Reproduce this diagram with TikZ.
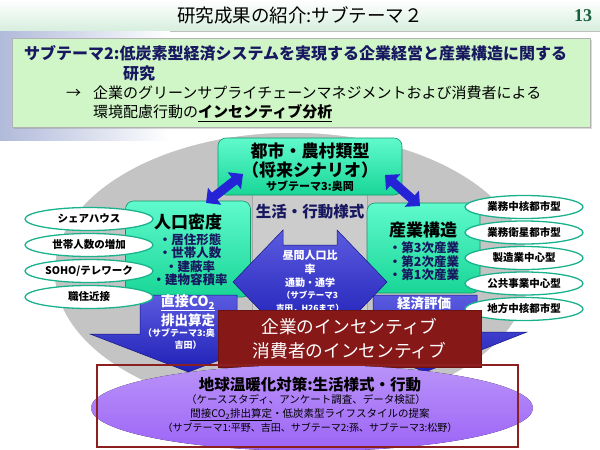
\documentclass[tikz,border=0pt]{standalone}
\usepackage{fontspec}
\setmainfont{Noto Sans CJK JP}
\newfontfamily\numfont{Liberation Serif}
\usetikzlibrary{shapes.geometric, arrows.meta, positioning, shadows}
\definecolor{titlemint}{RGB}{214,238,222}
\definecolor{steelband}{RGB}{176,186,218}
\definecolor{headgreen}{RGB}{208,246,200}
\definecolor{navytext}{RGB}{24,24,96}
\definecolor{numgreen}{RGB}{22,96,56}
\definecolor{boxtop}{RGB}{96,250,205}
\definecolor{boxbottom}{RGB}{24,214,150}
\definecolor{ringgray}{RGB}{196,196,196}
\definecolor{arrowblue}{RGB}{36,36,214}
\definecolor{ovalteal}{RGB}{26,178,140}
\definecolor{incentred}{RGB}{134,24,24}
\definecolor{lifepurple}{RGB}{156,100,246}
\definecolor{framered}{RGB}{140,32,32}
\tikzstyle{theme_box} = [rectangle, rounded corners=8pt, top color=boxtop, bottom color=boxbottom, draw=boxbottom!70!black, line width=0.6pt]
\tikzstyle{oval} = [ellipse, draw=ovalteal, line width=1.3pt, fill=white, inner sep=0pt, minimum height=23pt, font=\fontsize{10.5}{12}\selectfont\bfseries]
\tikzstyle{block_arrow} = [top color=arrowblue!75!white, bottom color=arrowblue!85!black, draw=arrowblue!60!black, line width=0.5pt]
\tikzstyle{link_arrow} = [line width=9pt, arrowblue, {Triangle[width=21pt,length=11pt]}-{Triangle[width=21pt,length=11pt]}]
\tikzstyle{box_title} = [font=\fontsize{17}{20}\selectfont\bfseries, align=center]
\tikzstyle{box_items} = [font=\fontsize{12.5}{13.5}\selectfont\bfseries, navytext, align=center]
\tikzstyle{white_text} = [text=white, align=center, inner sep=0pt]
\tikzstyle{summary_text} = [anchor=west, inner sep=0pt]

\begin{document}
\begin{tikzpicture}[x=1pt, y=-1pt]
\useasboundingbox (0,0) rectangle (600,450);

% Title bar
\fill[top color=white, bottom color=titlemint] (0,0) rectangle (600,31);
\draw[gray!50] (0,31) -- (600,31);
\fill[left color=steelband, right color=white] (0,31) rectangle (170,140);
\node[font=\fontsize{18.5}{20}\selectfont] (title) at (300,15) {研究成果の紹介:サブテーマ２};
\node[font=\numfont\fontsize{18}{20}\selectfont\bfseries, numgreen] (pageno) at (583,16) {13};

% Sub-theme summary
\node[rectangle, fill=headgreen, draw=gray!60, minimum width=578pt, minimum height=89pt, drop shadow={shadow xshift=2pt, shadow yshift=-2pt, opacity=0.3}] (summary) at (301,82.5) {};
\node[summary_text, navytext, font=\fontsize{16}{17}\selectfont\bfseries] (sumline1) at (24,53) {サブテーマ2:低炭素型経済システムを実現する企業経営と産業構造に関する};
\node[summary_text, navytext, font=\fontsize{16}{17}\selectfont\bfseries] (sumline2) at (123,73) {研究};
\node[summary_text, font=\fontsize{15}{17}\selectfont] (sumline3) at (66,93) {→\hspace{12pt}企業のグリーンサプライチェーンマネジメントおよび消費者による};
\node[summary_text, font=\fontsize{15}{17}\selectfont] (sumline4) at (93,113) {環境配慮行動の\textbf{\underline{インセンティブ分析}}};

% Gray ring and central backdrop
\draw[white, line width=1.5pt, fill=ringgray] (292,272) ellipse [x radius=238, y radius=140];
\draw[gray!70, fill=gray!40] (252,186) rectangle (367,338);

% Theme boxes
\node[theme_box, minimum width=184pt, minimum height=57pt] (city) at (310,166.5) {};
\node[box_title] (citytitle) at (310,151) {都市・農村類型};
\node[box_title] (cityscen) at (310,170) {（将来シナリオ）};
\node[font=\fontsize{11}{12}\selectfont\bfseries] (citysub) at (310,186) {サブテーマ3:奥岡};

\node[theme_box, minimum width=125pt, minimum height=96pt] (pop) at (188,249) {};
\node[box_title] (poptitle) at (188,222) {人口密度};
\node[box_items] (popitems) at (190,259.5) {・居住形態\\・世帯人数\\・建蔽率\\・建物容積率};

\node[theme_box, minimum width=113pt, minimum height=90pt] (ind) at (423.5,248) {};
\node[box_title] (indtitle) at (423,230) {産業構造};
\node[box_items] (inditems) at (424,261.5) {・第3次産業\\・第2次産業\\・第1次産業};

\node[font=\fontsize{15.5}{17}\selectfont\bfseries, navytext] (life) at (310,212) {生活・行動様式};

% Block arrows
\draw[block_arrow] (140,295) -- (237,295) -- (237,334) -- (287,334) -- (188.5,372) -- (90,334) -- (140,334) -- cycle;
\draw[block_arrow] (373,295) -- (477,295) -- (477,332) -- (527,332) -- (425,372) -- (323,332) -- (373,332) -- cycle;
\draw[block_arrow] (233,282) -- (283,230) -- (283,245) -- (337,245) -- (337,230) -- (387,282) -- (337,334) -- (337,319) -- (283,319) -- (283,334) -- cycle;

% Arrow labels
\node[white_text, font=\fontsize{11}{14.5}\selectfont\bfseries] (daytime) at (310,262.5) {昼間人口比\\率};
\node[white_text, font=\fontsize{10}{12}\selectfont\bfseries] (commute) at (310,283) {通勤・通学};
\node[white_text, font=\fontsize{8.5}{12.5}\selectfont\bfseries] (daytimesub) at (310,302) {（サブテーマ3\\吉田，H26まで）};
\node[white_text, font=\fontsize{14}{16}\selectfont\bfseries] (directco2) at (188,303) {\underline{直接CO\textsubscript{2}}};
\node[white_text, font=\fontsize{13.5}{16}\selectfont\bfseries] (emission) at (188,320) {排出算定};
\node[white_text, font=\fontsize{9}{11}\selectfont\bfseries, anchor=west] (directsub) at (143,333) {（サブテーマ3:奥};
\node[white_text, font=\fontsize{9}{11}\selectfont\bfseries] (directsub2) at (188,345) {吉田）};
\node[white_text, font=\fontsize{13.5}{16}\selectfont\bfseries] (economy) at (424,303) {経済評価};

% Links between theme boxes
\coordinate (popcorner) at (206,203);
\coordinate (cityleft) at (243,174);
\coordinate (cityright) at (385,175);
\coordinate (indcorner) at (420,206);
\draw[link_arrow] (popcorner) -- (cityleft);
\draw[link_arrow] (cityright) -- (indcorner);

% Household factors
\node[oval, minimum width=128pt] (share) at (89,219) {シェアハウス};
\node[oval, minimum width=128pt, below=1.7pt of share] (household) {世帯人数の増加};
\node[oval, minimum width=128pt, below=1.7pt of household] (telework) {SOHO/テレワーク};
\node[oval, minimum width=128pt, below=1.7pt of telework] (proximity) {職住近接};

% City types
\node[oval, minimum width=118pt] (core) at (524,207) {業務中核都市型};
\node[oval, minimum width=118pt, below=1.2pt of core] (satellite) {業務衛星都市型};
\node[oval, minimum width=118pt, below=1.2pt of satellite] (manuf) {製造業中心型};
\node[oval, minimum width=118pt, below=1.2pt of manuf] (public) {公共事業中心型};
\node[oval, minimum width=118pt, below=1.2pt of public] (regional) {地方中核都市型};

% Incentives
\node[fill=incentred, draw=incentred!80!black, minimum width=263pt, minimum height=57pt, text=white, font=\fontsize{17.7}{24}\selectfont, align=center] (incentive) at (349.5,338.5) {企業のインセンティブ\\消費者のインセンティブ};

% Countermeasures
\fill[top color=lifepurple!70!white, bottom color=lifepurple] (312,408) ellipse [x radius=221, y radius=43];
\draw[framered, line width=2.6pt] (97,365) rectangle (518,447);
\node[font=\fontsize{15.5}{17}\selectfont\bfseries] (warming) at (310,385) {地球温暖化対策:生活様式・行動};
\node[font=\fontsize{10.5}{12}\selectfont] (casestudy) at (306,400) {（ケーススタディ、アンケート調査、データ検証）};
\node[font=\fontsize{10.5}{12}\selectfont] (indirect) at (310,415) {\underline{間接CO\textsubscript{2}排出算定}・低炭素型ライフスタイルの提案};
\node[font=\fontsize{10}{12}\selectfont] (members) at (310,428) {（サブテーマ1:平野、吉田、サブテーマ2:孫、サブテーマ3:松野）};

\end{tikzpicture}
\end{document}
